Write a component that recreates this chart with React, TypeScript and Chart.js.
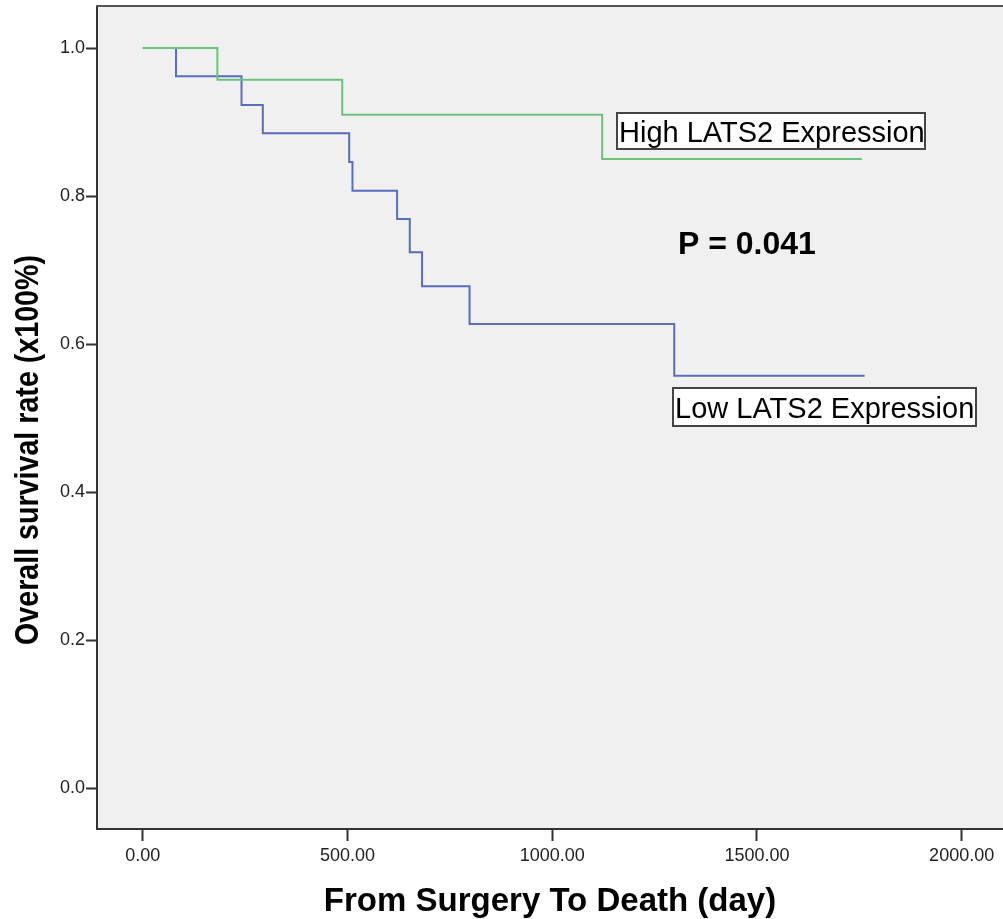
import React, { useEffect, useRef } from "react";
import { Chart, registerables } from "chart.js";

Chart.register(...registerables);

// ---- data ----
const highDays = [0, 182, 487, 1122, 1756];
const highSurvival = [1.0, 0.957, 0.91, 0.85, 0.85];
const lowDays = [0, 81, 241, 293, 504, 512, 621, 652, 682, 798, 1298, 1763];
const lowSurvival = [1.0, 0.962, 0.923, 0.885, 0.846, 0.807, 0.769, 0.724, 0.678, 0.627, 0.557, 0.557];
const xTicks = [0, 500, 1000, 1500, 2000];
const yTicks = [0, 0.2, 0.4, 0.6, 0.8, 1.0];
const seriesNames = ["High LATS2 Expression", "Low LATS2 Expression"];
const pValueText = "P = 0.041";
const xTitle = "From Surgery To Death (day)";
const yTitle = "Overall survival rate (x100%)";

const FONT = "'Liberation Sans', Arial, Helvetica, sans-serif";
const HIGH_COLOR = "#6cc27c";
const LOW_COLOR = "#5a6cbf";

const decorPlugin = {
  id: "decor",
  beforeDraw(chart: any) {
    const { ctx, chartArea } = chart;
    ctx.save();
    ctx.fillStyle = "#ffffff";
    ctx.fillRect(0, 0, chart.width, chart.height);
    ctx.fillStyle = "#f0f0f0";
    ctx.fillRect(chartArea.left, chartArea.top, chartArea.right - chartArea.left, chartArea.bottom - chartArea.top);
    ctx.restore();
  },
  afterDatasetsDraw(chart: any) {
    const { ctx } = chart;
    const box = (l: number, t: number, w: number, h: number, text: string, tx: number, base: number) => {
      ctx.save();
      ctx.fillStyle = "#ffffff";
      ctx.fillRect(l, t, w, h);
      ctx.beginPath();
      ctx.rect(l, t, w, h);
      ctx.clip();
      ctx.fillStyle = "#000";
      ctx.font = `29px ${FONT}`;
      ctx.textAlign = "left";
      ctx.textBaseline = "alphabetic";
      ctx.fillText(text, tx, base);
      ctx.restore();
      ctx.save();
      ctx.strokeStyle = "#444";
      ctx.lineWidth = 2;
      ctx.strokeRect(l, t, w, h);
      ctx.restore();
    };
    box(617, 113, 308, 36, seriesNames[0], 619, 142);
    box(673, 388, 303, 38, seriesNames[1], 675, 418);

    ctx.save();
    ctx.fillStyle = "#000";
    ctx.font = `bold 32px ${FONT}`;
    ctx.textAlign = "left";
    ctx.textBaseline = "alphabetic";
    ctx.fillText(pValueText, 678, 254);
    ctx.restore();
  },
  afterDraw(chart: any) {
    const { ctx, chartArea } = chart;
    ctx.save();
    ctx.strokeStyle = "#555";
    ctx.lineWidth = 2;
    ctx.beginPath();
    ctx.moveTo(chartArea.left - 1, chartArea.top);
    ctx.lineTo(chartArea.right, chartArea.top);
    ctx.stroke();
    ctx.restore();

    // y axis title (condensed bold)
    ctx.save();
    ctx.font = `bold 34px ${FONT}`;
    const w = ctx.measureText(yTitle).width;
    const sx = 390 / w;
    ctx.translate(29, 450);
    ctx.rotate(-Math.PI / 2);
    ctx.scale(sx, 1);
    ctx.fillStyle = "#000";
    ctx.textAlign = "center";
    ctx.textBaseline = "middle";
    ctx.fillText(yTitle, 0, 0);
    ctx.restore();
  },
};

export default function App() {
  const ref = useRef<HTMLCanvasElement | null>(null);
  useEffect(() => {
    if (!ref.current) return;
    const chart = new Chart(ref.current, {
      type: "line",
      data: {
        datasets: [
          {
            label: seriesNames[0],
            data: highDays.map((d, i) => ({ x: d, y: highSurvival[i] })),
            borderColor: HIGH_COLOR,
            borderWidth: 2,
            stepped: "before",
            pointRadius: 0,
            fill: false,
          },
          {
            label: seriesNames[1],
            data: lowDays.map((d, i) => ({ x: d, y: lowSurvival[i] })),
            borderColor: LOW_COLOR,
            borderWidth: 2,
            stepped: "before",
            pointRadius: 0,
            fill: false,
          },
        ],
      },
      options: {
        animation: false,
        responsive: false,
        devicePixelRatio: 1,
        layout: { padding: { top: 6, left: 0, right: 0, bottom: 0 } },
        plugins: { legend: { display: false }, tooltip: { enabled: false } },
        events: [],
        scales: {
          x: {
            type: "linear",
            min: -112,
            max: 2101,
            afterBuildTicks: (s: any) => {
              s.ticks = xTicks.map((v) => ({ value: v }));
            },
            afterFit: (s: any) => {
              s.height = 90;
              s.paddingLeft = 0;
              s.paddingRight = 0;
            },
            grid: { display: true, drawOnChartArea: false, drawTicks: true, tickLength: 12, tickWidth: 2, tickColor: "#333" },
            border: { display: true, color: "#333", width: 2 },
            ticks: {
              font: { family: FONT, size: 18 },
              color: "#222",
              padding: 4,
              maxRotation: 0,
              autoSkip: false,
              callback: (v: any) => Number(v).toFixed(2),
            },
            title: {
              display: true,
              text: xTitle,
              color: "#000",
              font: { family: FONT, size: 33, weight: "bold", lineHeight: 1 },
              padding: { top: 0, bottom: 1 },
            },
          },
          y: {
            type: "linear",
            min: -0.0554,
            max: 1.0568,
            afterBuildTicks: (s: any) => {
              s.ticks = yTicks.map((v) => ({ value: v }));
            },
            afterFit: (s: any) => {
              s.width = 97;
              s.paddingTop = 0;
              s.paddingBottom = 0;
            },
            grid: { display: true, drawOnChartArea: false, drawTicks: true, tickLength: 11, tickWidth: 2, tickColor: "#333" },
            border: { display: true, color: "#333", width: 2 },
            ticks: {
              font: { family: FONT, size: 18 },
              color: "#222",
              padding: 1,
              autoSkip: false,
              callback: (v: any) => Number(v).toFixed(1),
            },
          },
        },
      },
      plugins: [decorPlugin],
    } as any);
    return () => chart.destroy();
  }, []);

  return (
    <div style={{ position: "absolute", left: 0, top: 0, width: 1003, height: 919, background: "#fff" }}>
      <canvas ref={ref} width={1003} height={919} style={{ display: "block" }} />
    </div>
  );
}
